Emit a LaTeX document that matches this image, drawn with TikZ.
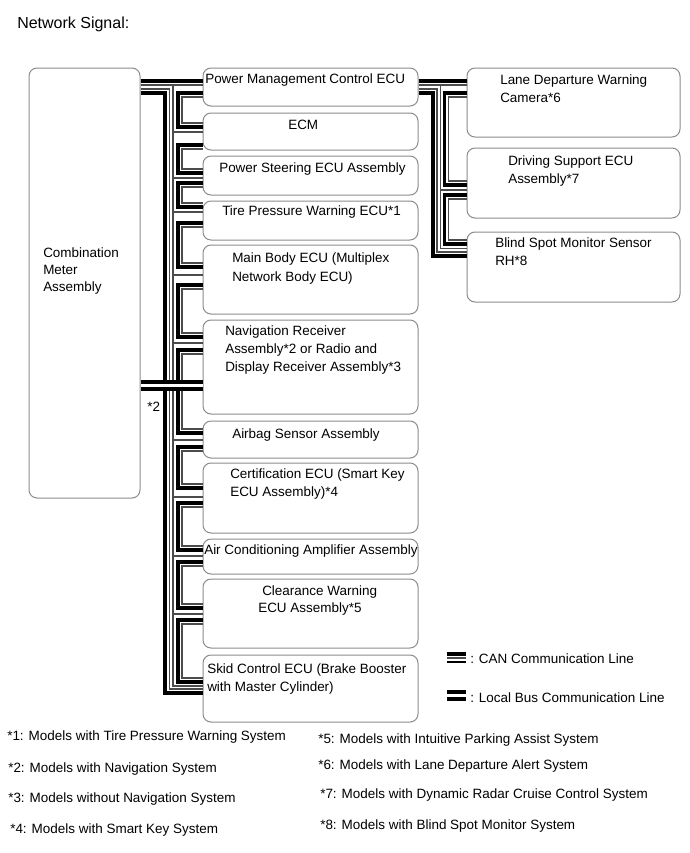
\documentclass[tikz,border=0pt]{standalone}
\usepackage{fontspec}
\setmainfont{Liberation Sans}
\usetikzlibrary{fit}
\begin{document}
\begin{tikzpicture}[x=0.75pt,y=-0.75pt,
  box/.style={draw=black!45, line width=0.75pt, rounded corners=6pt, inner sep=0pt},
  lbl/.style={anchor=base west, inner sep=0pt, font=\fontsize{10.1pt}{12pt}\selectfont},
  thk/.style={line width=2.5pt, black},
  thn/.style={line width=0.8pt, black!70},
]
\useasboundingbox[fill=white] (0,0) rectangle (689,853);
% title
\node[anchor=base west, inner sep=0pt, font=\fontsize{12pt}{14pt}\selectfont] (title) at (17,28) {Network Signal:};
% boxes
\node[box, fit={(29,68)(140,498)}] (cm) {};
\node[box, fit={(203,68)(418,106)}] (pm) {};
\node[box, fit={(203,113)(418,150)}] (ecm) {};
\node[box, fit={(203,156)(418,195)}] (ps) {};
\node[box, fit={(203,201)(418,240)}] (tp) {};
\node[box, fit={(203,245)(418,314)}] (mb) {};
\node[box, fit={(203,320)(418,414)}] (nav) {};
\node[box, fit={(203,421)(418,458)}] (ab) {};
\node[box, fit={(203,463)(418,533)}] (cert) {};
\node[box, fit={(203,539)(418,574)}] (ac) {};
\node[box, fit={(203,579)(418,648)}] (cw) {};
\node[box, fit={(203,655)(418,722)}] (skid) {};
\node[box, fit={(467,68)(680,137)}] (cam) {};
\node[box, fit={(467,148)(680,218)}] (ds) {};
\node[box, fit={(467,232)(680,302)}] (bs) {};
% texts
\node[lbl] (t1) at (43,257) {Combination};
\node[lbl] (t2) at (43,274) {Meter};
\node[lbl] (t3) at (43,291) {Assembly};
\node[lbl] (t4) at (205,83) {Power Management Control ECU};
\node[lbl] (t5) at (288,129) {ECM};
\node[lbl] (t6) at (219,172) {Power Steering ECU Assembly};
\node[lbl] (t7) at (222,215) {Tire Pressure Warning ECU*1};
\node[lbl] (t8) at (232,262) {Main Body ECU (Multiplex};
\node[lbl] (t9) at (232,281) {Network Body ECU)};
\node[lbl] (t10) at (225,335) {Navigation Receiver};
\node[lbl] (t11) at (225,353) {Assembly*2 or Radio and};
\node[lbl] (t12) at (225,371) {Display Receiver Assembly*3};
\node[lbl] (t13) at (232,438) {Airbag Sensor Assembly};
\node[lbl] (t14) at (230,478) {Certification ECU (Smart Key};
\node[lbl] (t15) at (230,496) {ECU Assembly)*4};
\node[lbl] (t16) at (204,554) {Air Conditioning Amplifier Assembly};
\node[lbl] (t17) at (262,595) {Clearance Warning};
\node[lbl] (t18) at (258,612) {ECU Assembly*5};
\node[lbl] (t19) at (207,673) {Skid Control ECU (Brake Booster};
\node[lbl] (t20) at (207,691) {with Master Cylinder)};
\node[lbl] (t21) at (500,84) {Lane Departure Warning};
\node[lbl] (t22) at (500,102) {Camera*6};
\node[lbl] (t23) at (508,165) {Driving Support ECU};
\node[lbl] (t24) at (508,183) {Assembly*7};
\node[lbl] (t25) at (495,247) {Blind Spot Monitor Sensor};
\node[lbl] (t26) at (495,265) {RH*8};
\node[lbl] (t27) at (147,411) {*2};
% ---- left CAN ----
\draw[thk] (cm.east |- 0,81) -- (pm.west |- 0,81);
\draw[thn] (cm.east |- 0,85) -- (pm.west |- 0,85);
\draw[thn] (cm.east |- 0,89) -- (169.5,89) -- (169.5,689) -- (skid.west |- 0,689);
\draw[thk] (cm.east |- 0,93) -- (165,93) -- (165,693) -- (skid.west |- 0,693);
\draw[thn] (173,85) -- (173,686) -- (skid.west |- 0,686);
\foreach \n/\y in {ecm/132, ps/178, tp/212, mb/275, nav/343, ab/440, cert/497, ac/556, cw/614}
  \draw[thn] (173,\y) -- (\n.west |- 0,\y);
\foreach \a/\b/\ya/\yb in {pm/ecm/93/127, ecm/ps/145/173, ps/tp/183/207, tp/mb/223/267, mb/nav/285/337, nav/ab/350/433, ab/cert/447/488, cert/ac/503/550, ac/cw/562/608, cw/skid/620/682}{
  \pgfmathsetmacro\yc{\ya+4}
  \pgfmathsetmacro\yd{\yb-4}
  \draw[thk] (\a.west |- 0,\ya) -- (178,\ya) -- (178,\yb) -- (\b.west |- 0,\yb);
  \draw[thn] (\a.west |- 0,\yc) -- (182,\yc) -- (182,\yd) -- (\b.west |- 0,\yd);
}
% ---- right CAN ----
\draw[thk] (pm.east |- 0,81) -- (cam.west |- 0,81);
\draw[thn] (pm.east |- 0,85) -- (cam.west |- 0,85);
\draw[thn] (pm.east |- 0,89) -- (437,89) -- (437,252) -- (bs.west |- 0,252);
\draw[thk] (pm.east |- 0,93) -- (433,93) -- (433,256) -- (bs.west |- 0,256);
\draw[thn] (440.5,85) -- (440.5,248.5) -- (bs.west |- 0,248.5);
\draw[thn] (440.5,190) -- (ds.west |- 0,190);
\foreach \a/\b/\ya/\yb in {cam/ds/93/185, ds/bs/195/244}{
  \pgfmathsetmacro\yc{\ya+4}
  \pgfmathsetmacro\yd{\yb-4}
  \draw[thk] (\a.west |- 0,\ya) -- (444.5,\ya) -- (444.5,\yb) -- (\b.west |- 0,\yb);
  \draw[thn] (\a.west |- 0,\yc) -- (448.5,\yc) -- (448.5,\yd) -- (\b.west |- 0,\yd);
}
% ---- local bus ----
\fill[white] (cm.east |- 0,383.5) rectangle (nav.west |- 0,387.5);
\draw[thk] (cm.east |- 0,382) -- (nav.west |- 0,382);
\draw[thk] (cm.east |- 0,389) -- (nav.west |- 0,389);
% ---- legend ----
\draw[thk] (447,654) -- (466,654);
\draw[thn] (447,658) -- (466,658);
\draw[line width=1.5pt] (447,661.5) -- (466,661.5);
\node[lbl] (lg1) at (470,663) {: CAN Communication Line};
\draw[thk] (447,692) -- (466,692);
\draw[thk] (447,699) -- (466,699);
\node[lbl] (lg2) at (470,702) {: Local Bus Communication Line};
% ---- footnotes ----
\node[lbl] (f1) at (7,740) {*1: Models with Tire Pressure Warning System};
\node[lbl] (f2) at (8,772) {*2: Models with Navigation System};
\node[lbl] (f3) at (8,802) {*3: Models without Navigation System};
\node[lbl] (f4) at (10,833) {*4: Models with Smart Key System};
\node[lbl] (f5) at (318,743) {*5: Models with Intuitive Parking Assist System};
\node[lbl] (f6) at (318,769) {*6: Models with Lane Departure Alert System};
\node[lbl] (f7) at (320,798) {*7: Models with Dynamic Radar Cruise Control System};
\node[lbl] (f8) at (320,829) {*8: Models with Blind Spot Monitor System};
\end{tikzpicture}
\end{document}
